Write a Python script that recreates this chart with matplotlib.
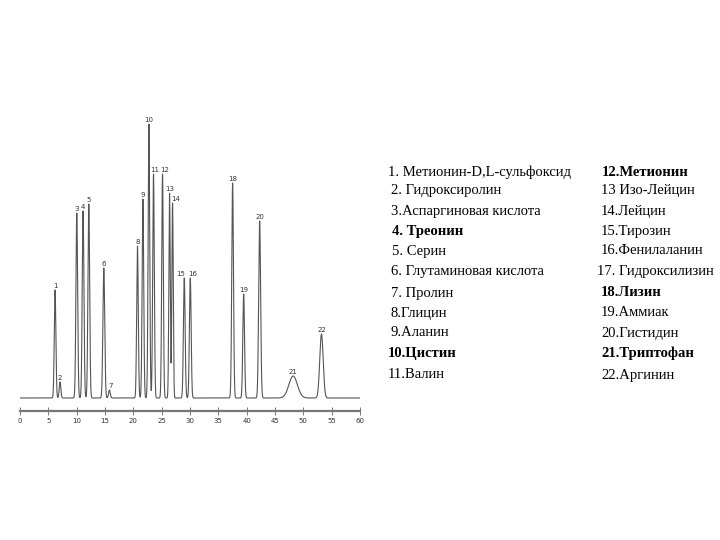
import numpy as np
import matplotlib
matplotlib.use("Agg")
import matplotlib.pyplot as plt

# Peak data (retention time, height in px-units, width)
peak_labels = ["1", "2", "3", "4", "5", "6", "7", "8", "9", "10", "11",
               "12", "13", "14", "15", "16", "18", "19", "20", "21", "22"]
peak_times = [6.19, 7.07, 10.02, 11.13, 12.14, 14.79, 15.78, 20.73, 21.69, 22.75, 23.56,
              25.15, 26.39, 26.92, 28.99, 30.05, 37.52, 39.47, 42.29, 48.20, 53.20]
peak_heights = [108, 16, 185, 187, 194, 130, 8, 152, 199, 274, 224,
                224, 205, 195, 120, 120, 215, 104, 177, 22, 64]
peak_widths = [0.14, 0.14, 0.15, 0.15, 0.15, 0.16, 0.15, 0.14, 0.14, 0.14, 0.14,
               0.14, 0.12, 0.12, 0.15, 0.15, 0.15, 0.15, 0.17, 0.75, 0.30]
label_dx = [0, 0, 0, 0, 0, 0, 0.3, 0, 0, 0, 0.3,
            0.3, 0, 0.6, -0.6, 0.5, 0, 0, 0, 0, 0]

xticks = [0, 5, 10, 15, 20, 25, 30, 35, 40, 45, 50, 55, 60]

left_items = ["1. Метионин-D,L-сульфоксид", "2. Гидроксиролин", "3.Аспаргиновая кислота",
              "4. Треонин", "5. Серин", "6. Глутаминовая кислота", "7. Пролин",
              "8.Глицин", "9.Аланин", "10.Цистин", "11.Валин"]
left_bold = [False, False, False, True, False, False, False, False, False, True, False]
right_items = ["12.Метионин", "13 Изо-Лейцин", "14.Лейцин", "15.Тирозин", "16.Фенилаланин",
               "17. Гидроксилизин", "18.Лизин", "19.Аммиак", "20.Гистидин", "21.Триптофан",
               "22.Аргинин"]
right_bold = [True, False, False, False, False, False, True, False, False, True, False]

fig = plt.figure(figsize=(7.2, 5.4), dpi=100)
W, H = 720, 540
x0, x1 = 20, 360
ybot, ytop = 411, 100
ax = fig.add_axes([x0 / W, 1 - ybot / H, (x1 - x0) / W, (ybot - ytop) / H])

t = np.linspace(0, 60, 6000)
sig = np.zeros_like(t)
for tm, h, w in zip(peak_times, peak_heights, peak_widths):
    sig += h * np.exp(-0.5 * ((t - tm) / w) ** 2)
ax.plot(t, sig, color="#555555", lw=0.8)

for lab, tm, h, dx in zip(peak_labels, peak_times, peak_heights, label_dx):
    ax.text(tm + dx, h + 1, lab, ha="center", va="bottom", fontsize=5,
            color="#333333", family="DejaVu Sans")

ax.set_xlim(0, 60)
ax.set_ylim(-13, ybot - ytop - 13)
for s in ["top", "right", "left"]:
    ax.spines[s].set_visible(False)
ax.spines["bottom"].set_color("#777777")
ax.spines["bottom"].set_linewidth(1.6)
ax.set_yticks([])
ax.set_xticks(xticks)
ax.set_xticklabels([str(v) for v in xticks])
ax.tick_params(axis="x", direction="inout", length=6, width=0.7, color="#777777",
               labelsize=5, labelcolor="#333333", pad=2)

yline = [172, 191, 212, 231, 251, 271, 293, 313, 333, 353, 375]
lx = [388, 391, 391, 392, 392, 391, 391, 391, 391, 388, 388]
rx = [602, 601, 601, 601, 601, 597, 601, 601, 601, 601, 601]
for i in range(11):
    fig.text(lx[i] / W, 1 - yline[i] / H, left_items[i], ha="left", va="center",
             fontsize=10.5, family="Liberation Serif",
             fontweight="bold" if left_bold[i] else "normal")
    fig.text(rx[i] / W, 1 - yline[i] / H, right_items[i], ha="left", va="center",
             fontsize=10.5, family="Liberation Serif",
             fontweight="bold" if right_bold[i] else "normal")

fig.savefig("out.png", dpi=100)
